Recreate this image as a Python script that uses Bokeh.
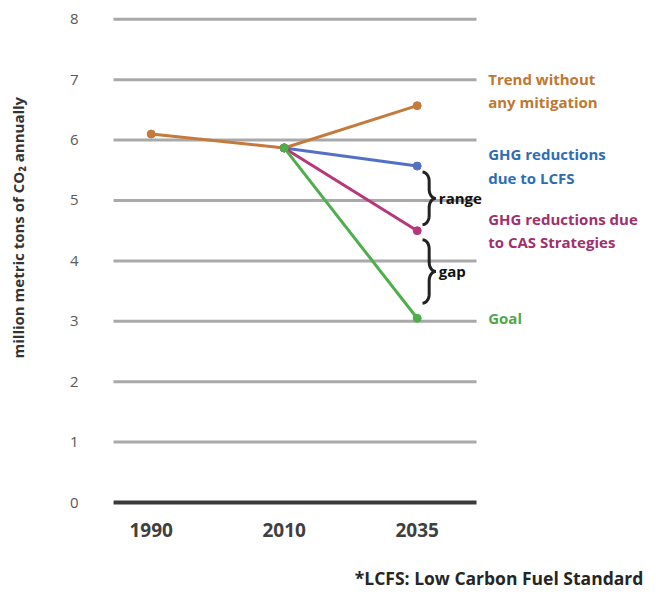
import numpy as np
from bokeh.plotting import figure
from bokeh.models import Range1d, FixedTicker, Label
from bokeh.embed import file_html
from bokeh.resources import INLINE

# ---- data ----
years = ["1990", "2010", "2035"]
trend = [6.1, 5.87, 6.57]
lcfs = [None, 5.87, 5.57]
cas = [None, 5.87, 4.5]
goal = [None, 5.87, 3.05]
series_names = ["Trend without\nany mitigation", "GHG reductions\ndue to LCFS",
                "GHG reductions due\nto CAS Strategies", "Goal"]
y_ticks = [0, 1, 2, 3, 4, 5, 6, 7, 8]
y_title = "million metric tons of CO\u2082 annually"
footnote = "*LCFS: Low Carbon Fuel Standard"
brace_labels = ["range", "gap"]

line_colors = ["#C47A3C", "#5470C6", "#B5387A", "#4DAF4A"]
text_colors = ["#C0772F", "#2E6DB4", "#A0306B", "#4EA84A"]

xi = list(range(len(years)))
x_start, x_end = -1.133, 3.724
grid_start, grid_end = -0.283, 2.446
y_start, y_end = -1.44, 8.311

p = figure(width=646, height=589, output_backend="svg", toolbar_location=None,
           x_range=Range1d(x_start, x_end), y_range=Range1d(y_start, y_end),
           min_border_left=0, min_border_right=0, min_border_top=0,
           min_border_bottom=0)
p.outline_line_color = None
p.background_fill_color = "white"
p.border_fill_color = "white"

# grid (drawn to a fixed extent)
p.xgrid.grid_line_color = None
p.ygrid.grid_line_color = None
gl = y_ticks[1:]
p.segment(x0=[grid_start] * len(gl), x1=[grid_end] * len(gl), y0=gl, y1=gl,
          line_color="#a9a9a9", line_width=3)
p.segment(x0=[grid_start], x1=[grid_end], y0=[y_ticks[0]], y1=[y_ticks[0]],
          line_color="#3a3a3a", line_width=4)

# axes (drawn at fixed positions inside the frame)
p.yaxis.fixed_location = grid_start
p.yaxis.ticker = FixedTicker(ticks=y_ticks)
p.yaxis.axis_line_color = None
p.yaxis.major_tick_line_color = None
p.yaxis.minor_tick_line_color = None
p.yaxis.major_label_standoff = 29
p.yaxis.major_label_text_font = "Open Sans"
p.yaxis.major_label_text_font_size = "15px"
p.yaxis.major_label_text_color = "#595959"

p.xaxis.fixed_location = -0.07
p.xaxis.ticker = FixedTicker(ticks=xi)
p.xaxis.major_label_overrides = {i: y for i, y in zip(xi, years)}
p.xaxis.axis_line_color = None
p.xaxis.major_tick_line_color = None
p.xaxis.minor_tick_line_color = None
p.xaxis.major_label_standoff = 10
p.xaxis.major_label_text_font = "Open Sans"
p.xaxis.major_label_text_font_style = "bold"
p.xaxis.major_label_text_font_size = "19px"
p.xaxis.major_label_text_color = "#404040"

# series
all_series = [trend, lcfs, cas, goal]
for s, c in zip(all_series, line_colors):
    xs = [x for x, v in zip(xi, s) if v is not None]
    ys = [v for v in s if v is not None]
    p.line(xs, ys, line_color=c, line_width=3)
for s, c in zip(all_series, line_colors):
    xs = [x for x, v in zip(xi, s) if v is not None]
    ys = [v for v in s if v is not None]
    p.scatter(xs, ys, size=8, fill_color=c, line_color=c)

# series labels at right
end = xi[-1]
offsets = [15, 0, 0, 0]
for name, s, tc, off in zip(series_names, all_series, text_colors, offsets):
    p.add_layout(Label(x=end, y=s[-1], text=name, x_offset=71, y_offset=off,
                       text_color=tc, text_font="Open Sans", text_font_style="bold",
                       text_font_size="15px", text_baseline="middle", text_align="left",
                       text_line_height=1.17))

# braces
def brace(x0, w, yt, yb, r):
    ym = (yt + yb) / 2
    t = np.linspace(0, np.pi / 2, 10)
    xm = x0 + w / 2
    x1 = x0 + (w / 2) * np.sin(t)
    y1 = yt - r * (1 - np.cos(t))
    x2 = xm + (w / 2) * (1 - np.cos(t))
    y2 = ym + r * (1 - np.sin(t))
    x3 = xm + (w / 2) * (1 - np.cos(t[::-1]))
    y3 = ym - r * (1 - np.sin(t[::-1]))
    x4 = x0 + (w / 2) * np.sin(t[::-1])
    y4 = yb + r * (1 - np.cos(t[::-1]))
    return np.concatenate([x1, x2, x3, x4]), np.concatenate([y1, y2, y3, y4])

bx0, bw = end + 0.04, 0.1
pairs = [(lcfs[-1] - 0.1, cas[-1] + 0.1), (cas[-1] - 0.15, goal[-1] + 0.25)]
for (yt, yb), lab in zip(pairs, brace_labels):
    bxs, bys = brace(bx0, bw, yt, yb, 0.15)
    p.line(bxs, bys, line_color="#222222", line_width=3)
    p.add_layout(Label(x=bx0 + bw, y=(yt + yb) / 2, text=lab, x_offset=3,
                       text_color="#111111", text_font="Open Sans", text_font_style="bold",
                       text_font_size="15px", text_baseline="middle"))

# y title
p.add_layout(Label(x=-0.998, y=4.55, text=y_title, angle=np.pi / 2,
                   text_color="#333333", text_font="Open Sans", text_font_style="bold",
                   text_font_size="15px", text_align="center", text_baseline="middle"))

# footnote
p.add_layout(Label(x=3.70, y=-1.25, text=footnote, text_align="right",
                   text_baseline="middle", text_color="#262626", text_font="Open Sans",
                   text_font_style="bold", text_font_size="17.5px"))

open("out.html", "w").write(file_html(p, INLINE))
